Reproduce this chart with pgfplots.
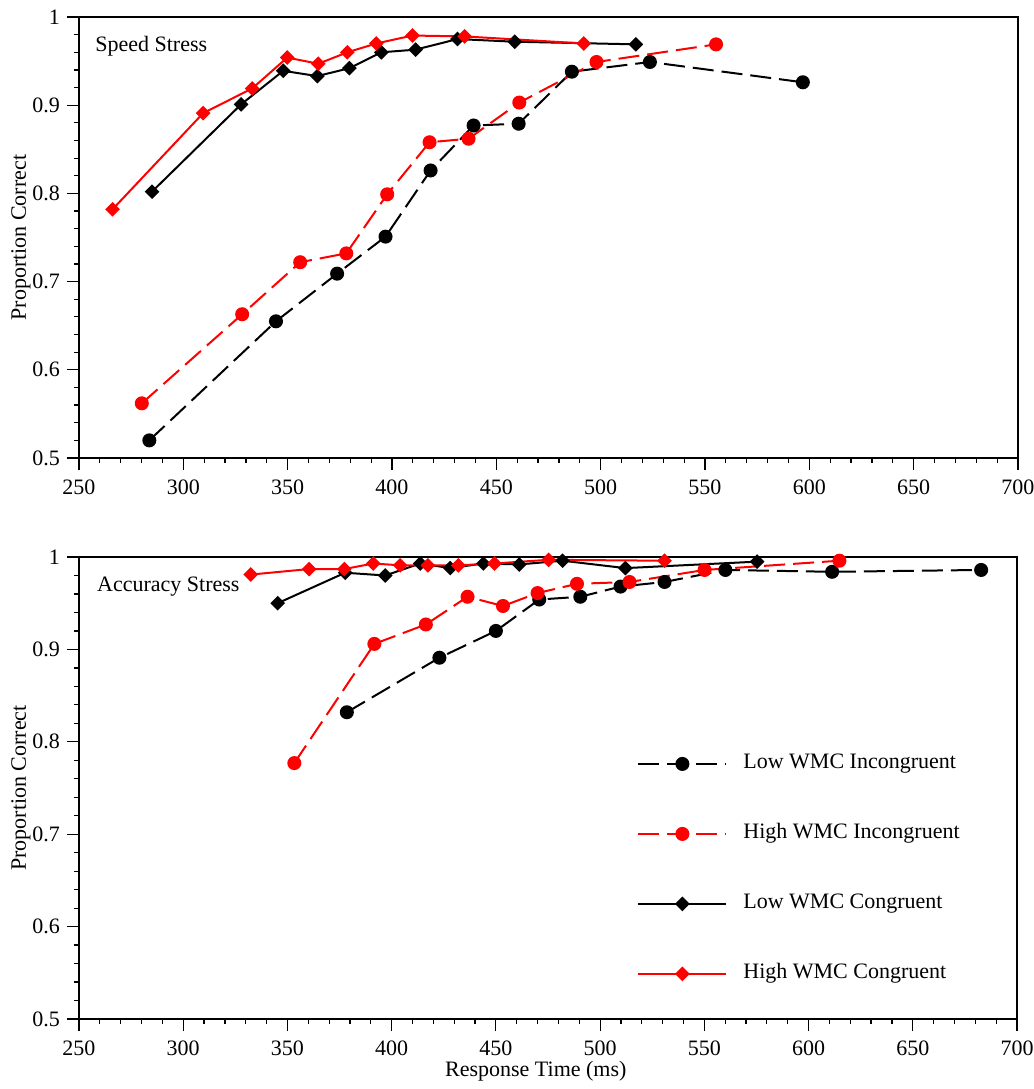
\documentclass[border=0pt]{standalone}
\usepackage{fontspec}
\setmainfont{Liberation Serif}
\usepackage{pgfplots}
\pgfplotsset{compat=1.18}
\begin{document}
\begin{tikzpicture}[font=\fontsize{11pt}{13.2pt}\selectfont]
\useasboundingbox (0pt,0pt) rectangle (517pt,-544.5pt);
\pgfplotsset{
  myax/.style={
    scale only axis, width=469.5pt, clip=false,
    xmin=250, xmax=700, ymin=0.5, ymax=1,
    xtick={250,300,350,400,450,500,550,600,650,700},
    ytick={0.5,0.6,0.7,0.8,0.9,1},
    minor tick num=4,
    tick align=outside, xtick pos=left, ytick pos=left,
    major tick length=6pt, minor tick length=2.5pt,
    every tick/.style={black, line width=0.6pt},
    axis line style={line width=1.1pt},
    /pgf/number format/assume math mode=true,
    yticklabel style={/pgf/number format/fixed, /pgf/number format/precision=1},
    xticklabel style={yshift=-1.5pt},
    ticklabel style={font=\fontsize{11pt}{13.2pt}\selectfont},
    label style={font=\fontsize{11pt}{13.2pt}\selectfont},
    ylabel={Proportion Correct},
    ylabel style={at={(axis description cs:-0.0618,0.5)}, anchor=center},
  },
  lowinc/.style={black, line width=1pt, dash pattern=on 10.5pt off 4pt, mark=*, mark size=3pt, mark options={solid}},
  highinc/.style={red, line width=1pt, dash pattern=on 10.5pt off 4pt, mark=*, mark size=3pt, mark options={solid}},
  lowcon/.style={black, solid, line width=1pt, mark=square*, mark size=2.1pt, mark options={rotate=45, solid}},
  highcon/.style={red, solid, line width=1pt, mark=square*, mark size=2.1pt, mark options={rotate=45, solid}},
}
% ---------- Speed stress ----------
\begin{axis}[myax, height=220.5pt, at={(39.5pt,-229pt)}, anchor=south west]
\addplot[lowinc] coordinates {(283.7,0.520)(344.4,0.655)(373.7,0.709)(396.9,0.751)(418.5,0.826)(439.1,0.877)(460.7,0.879)(486.2,0.938)(523.6,0.949)(596.9,0.926)};
\addplot[highinc] coordinates {(280.1,0.562)(328.2,0.663)(356.0,0.722)(378.1,0.732)(397.7,0.799)(418.0,0.858)(436.7,0.862)(461.0,0.903)(498.0,0.949)(555.3,0.969)};
\addplot[lowcon] coordinates {(285.0,0.802)(327.7,0.901)(347.9,0.939)(364.2,0.933)(379.6,0.942)(394.9,0.960)(411.3,0.963)(431.4,0.975)(458.8,0.972)(516.9,0.969)};
\addplot[highcon] coordinates {(266.1,0.782)(309.5,0.891)(333.0,0.919)(349.8,0.954)(364.7,0.947)(378.6,0.960)(392.5,0.970)(409.8,0.979)(434.8,0.978)(491.9,0.970)};
\node[anchor=west, inner sep=0pt] at (rel axis cs:0.017,0.934) {Speed Stress};
\end{axis}
% ---------- Accuracy stress ----------
\begin{axis}[myax, width=469pt, height=231pt, at={(39.5pt,-509.5pt)}, anchor=south west,
  xlabel={Response Time (ms)},
  xlabel style={at={(axis description cs:0.487,-0.113)}, anchor=center, inner sep=1pt},
  legend style={draw=none, fill=none, inner sep=0pt, at={(axis description cs:0.5949,0.5736)}, anchor=north west,
    row sep=25.5pt, column sep=8pt, nodes={inner sep=0pt, text height=7pt, text depth=2.5pt},
    font=\fontsize{11pt}{13.2pt}\selectfont},
  legend cell align=left,
  legend image code/.code={\draw[mark repeat=2,mark phase=2,#1] plot coordinates {(0pt,0pt)(22pt,0pt)(44pt,0pt)};},
]
\addplot[lowinc] coordinates {(378.5,0.832)(422.9,0.891)(450.0,0.920)(470.8,0.954)(490.5,0.957)(509.8,0.968)(530.9,0.973)(560.1,0.986)(611.3,0.984)(682.8,0.986)};
\addlegendentry{Low WMC Incongruent}
\addplot[highinc] coordinates {(353.3,0.777)(391.7,0.906)(416.4,0.927)(436.4,0.957)(453.4,0.947)(470.0,0.961)(488.9,0.971)(514.1,0.973)(550.1,0.986)(614.8,0.996)};
\addlegendentry{High WMC Incongruent}
\addplot[lowcon] coordinates {(345.3,0.950)(377.7,0.983)(396.9,0.980)(413.7,0.993)(428.1,0.988)(444.0,0.993)(461.2,0.992)(482.0,0.996)(512.1,0.988)(575.3,0.995)};
\addlegendentry{Low WMC Congruent}
\addplot[highcon] coordinates {(332.4,0.981)(360.4,0.987)(377.3,0.987)(391.2,0.993)(404.1,0.991)(417.4,0.991)(432.0,0.991)(449.3,0.993)(475.3,0.997)(530.9,0.996)};
\addlegendentry{High WMC Congruent}
\node[anchor=west, inner sep=0pt] at (rel axis cs:0.019,0.937) {Accuracy Stress};
\end{axis}
\end{tikzpicture}
\end{document}
